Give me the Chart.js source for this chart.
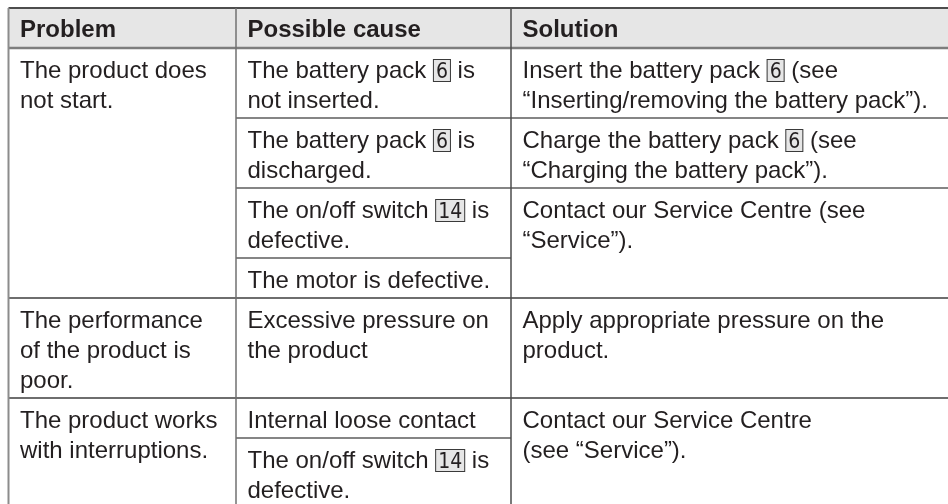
<!DOCTYPE html>
<html>
<head>
<meta charset="utf-8">
<script src="https://cdn.jsdelivr.net/npm/chart.js@4.4.0/dist/chart.umd.min.js"></script>
<style>
  html, body { margin: 0; padding: 0; background: #fff; }
  #wrap { width: 948px; height: 504px; position: relative; }
</style>
</head>
<body>
<div id="wrap"><canvas id="table-chart"></canvas></div>
<script>
// table content
const headers = ['Problem', 'Possible cause', 'Solution'];
const problems = [
    'The product does\nnot start.',
    'The performance\nof the product is\npoor.',
    'The product works\nwith interruptions.'
];
const causes = [
    'The battery pack [6] is\nnot inserted.',
    'The battery pack [6] is\ndischarged.',
    'The on/off switch [14] is\ndefective.',
    'The motor is defective.',
    'Excessive pressure on\nthe product',
    'Internal loose contact',
    'The on/off switch [14] is\ndefective.'
];
const causeProblem = [0, 0, 0, 0, 1, 2, 2];
const solutions = [
    'Insert the battery pack [6] (see\n“Inserting/removing the battery pack”).',
    'Charge the battery pack [6] (see\n“Charging the battery pack”).',
    'Contact our Service Centre (see\n“Service”).',
    'Apply appropriate pressure on the\nproduct.',
    'Contact our Service Centre\n(see “Service”).'
];
const solutionFirstCause = [0, 1, 2, 4, 5];

// layout
const W = 948, H = 504;
const COL_EDGES = [8.5, 236, 511, 948];
const LINE = 30;          // px per text line (one y unit)
const PAD = 1 / 3;        // row padding in lines
const TOP = 8;            // px above the table
const PAD_X = 11.5;
const FONT = '"Liberation Sans", Arial, sans-serif';
const TEXT = '#231f20';

const lines = (s) => s.split('\n').length;

// row heights (in lines) from the text
const rowH = causes.map(c => lines(c) + PAD);
problems.forEach((p, g) => {
    const idx = causeProblem.map((v, i) => v === g ? i : -1).filter(i => i >= 0);
    if (idx.length === 1) rowH[idx[0]] = Math.max(rowH[idx[0]], lines(p) + PAD);
});
const solutionSpan = solutionFirstCause.map((s, i) => (solutionFirstCause[i + 1] ?? causes.length) - s);
solutions.forEach((s, i) => {
    if (solutionSpan[i] === 1) {
        const r = solutionFirstCause[i];
        rowH[r] = Math.max(rowH[r], lines(s) + PAD);
    }
});

const headerH = 1 + PAD;
const rowTop = [];
let acc = headerH;
rowH.forEach(h => { rowTop.push(acc); acc += h; });
const tableBottom = acc;

const spanOf = (first, count) => ({ top: rowTop[first], bottom: rowTop[first + count - 1] + rowH[first + count - 1] });

// one anchor point per cell; the plugin writes the text there
const cells = [];
headers.forEach((h, c) => cells.push({ x: COL_EDGES[c] + PAD_X, y: 0, text: h, bold: true }));
problems.forEach((p, g) => {
    const first = causeProblem.indexOf(g);
    cells.push({ x: COL_EDGES[0] + PAD_X, y: rowTop[first], text: p });
});
causes.forEach((c, i) => cells.push({ x: COL_EDGES[1] + PAD_X, y: rowTop[i], text: c }));
solutions.forEach((s, i) => cells.push({ x: COL_EDGES[2] + PAD_X, y: rowTop[solutionFirstCause[i]], text: s }));

function drawRich(ctx, str, x, baseline, bold) {
    const parts = str.split(/(\[\d+\])/);
    parts.forEach(part => {
        if (!part) return;
        const m = part.match(/^\[(\d+)\]$/);
        if (m) {
            ctx.font = '21px "Liberation Sans Narrow", "DejaVu Sans Condensed", sans-serif';
            const w = ctx.measureText(m[1]).width + 6;
            ctx.fillStyle = '#e6e6e6';
            ctx.fillRect(x, baseline - 19, w, 23);
            ctx.strokeStyle = '#3a3a3a';
            ctx.lineWidth = 1;
            ctx.strokeRect(x + 0.5, baseline - 18.5, w - 1, 22);
            ctx.fillStyle = TEXT;
            ctx.textAlign = 'center';
            ctx.fillText(m[1], x + w / 2, baseline);
            ctx.textAlign = 'left';
            x += w;
        } else {
            ctx.font = (bold ? 'bold ' : '') + '24px ' + FONT;
            ctx.fillStyle = TEXT;
            ctx.fillText(part, x, baseline);
            x += ctx.measureText(part).width;
        }
    });
}

const tablePlugin = {
    id: 'tableGrid',
    beforeDatasetsDraw(chart) {
        const { ctx, scales: { x, y } } = chart;
        const px = v => x.getPixelForValue(v);
        const py = v => y.getPixelForValue(v);
        const left = px(COL_EDGES[0]), right = px(COL_EDGES[3]);
        ctx.save();
        // header band
        ctx.fillStyle = '#e6e6e6';
        ctx.fillRect(left, py(0), right - left, py(headerH) - py(0));

        const hline = (x0, x1, yv, color, lw) => {
            ctx.strokeStyle = color; ctx.lineWidth = lw;
            ctx.beginPath(); ctx.moveTo(x0, py(yv)); ctx.lineTo(x1, py(yv)); ctx.stroke();
        };
        const vline = (xv, color, lw) => {
            ctx.strokeStyle = color; ctx.lineWidth = lw;
            ctx.beginPath(); ctx.moveTo(px(xv), py(0)); ctx.lineTo(px(xv), py(tableBottom)); ctx.stroke();
        };

        hline(left, right, 0, '#4d4d4d', 2);
        hline(left, right, headerH, '#7d7d7d', 2.5);

        causes.forEach((c, i) => {
            if (i === 0) return;
            const groupStart = causeProblem[i] !== causeProblem[i - 1];
            const solStart = solutionFirstCause.includes(i);
            const x0 = groupStart ? left : px(COL_EDGES[1]);
            const x1 = (groupStart || solStart) ? right : px(COL_EDGES[2]);
            hline(x0, x1, rowTop[i], groupStart ? '#6e6e6e' : '#858585', 2);
        });

        vline(COL_EDGES[0], '#8c8c8c', 2);
        vline(COL_EDGES[1], '#707070', 1.5);
        vline(COL_EDGES[2], '#4d4d4d', 1.5);
        ctx.restore();
    },
    afterDatasetsDraw(chart) {
        const { ctx } = chart;
        const meta = chart.getDatasetMeta(0);
        ctx.save();
        ctx.textBaseline = 'alphabetic';
        ctx.textAlign = 'left';
        meta.data.forEach((pt, i) => {
            const cell = cells[i];
            cell.text.split('\n').forEach((ln, k) => {
                drawRich(ctx, ln, pt.x, pt.y + (cell.bold ? 29 : 30) + k * LINE, cell.bold);
            });
        });
        ctx.restore();
    }
};

new Chart(document.getElementById('table-chart'), {
    type: 'scatter',
    data: {
        datasets: [{
            data: cells.map(c => ({ x: c.x, y: c.y })),
            pointRadius: 0,
            pointHoverRadius: 0
        }]
    },
    options: {
        responsive: true,
        maintainAspectRatio: false,
        animation: false,
        events: [],
        layout: { padding: 0 },
        plugins: { legend: { display: false }, tooltip: { enabled: false } },
        scales: {
            x: { type: 'linear', display: false, min: 0, max: W },
            y: { type: 'linear', display: false, reverse: true, min: -TOP / LINE, max: (H - TOP) / LINE }
        }
    },
    plugins: [tablePlugin]
});
</script>
</body>
</html>
